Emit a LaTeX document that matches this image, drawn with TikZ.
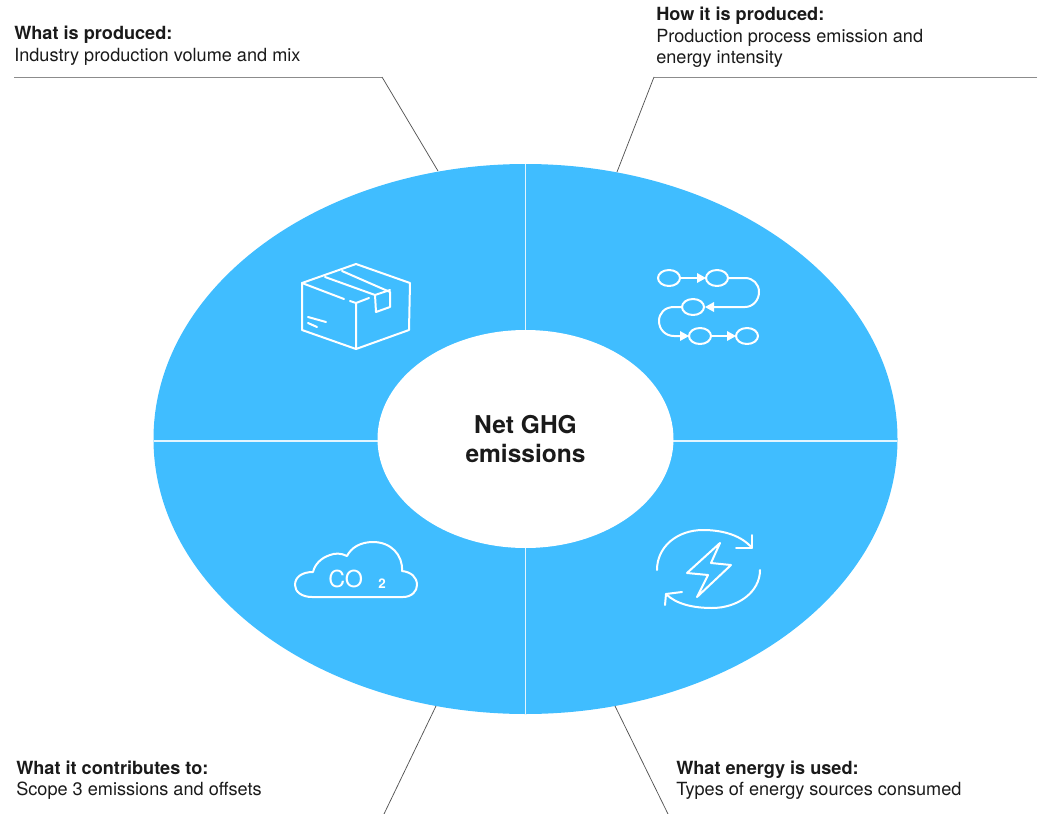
\documentclass[tikz,border=0pt]{standalone}
\usepackage{fontspec}
\setmainfont{TeX Gyre Heros}
\definecolor{wheel}{HTML}{40BDFF}
\definecolor{ink}{HTML}{1A1A1A}
\definecolor{rule}{HTML}{8C8C8C}
\tikzset{
  caption/.style={anchor=base west,inner sep=0pt,text=ink,font=\fontsize{13.6pt}{16pt}\selectfont},
  leader/.style={draw=rule,line width=0.7pt},
  slant/.style={draw=ink!75,line width=0.55pt},
  divider/.style={draw=white!85!wheel,line width=0.9pt},
  icon/.style={draw=white,line width=1.5pt,line cap=round,line join=round},
  tip/.style={fill=white,draw=none},
}
\begin{document}
\begin{tikzpicture}[x=0.75pt,y=-0.75pt]
\useasboundingbox (0,0) rectangle (1040,814);
% wheel
\fill[wheel] (525.5,439) ellipse [x radius=372,y radius=275];
\node[ellipse node/.style={},draw=none,fill=none,inner sep=0pt] (c) at (525.5,439) {};
\coordinate (vt) at (525.5,164); \coordinate (vti) at (525.5,330);
\coordinate (vb) at (525.5,714); \coordinate (vbi) at (525.5,548);
\coordinate (hl) at (154,441); \coordinate (hli) at (378,441);
\coordinate (hr) at (897,441); \coordinate (hri) at (673,441);
\draw[divider] (vt) -- (vti); \draw[divider] (vb) -- (vbi);
\draw[divider] (hl) -- (hli); \draw[divider] (hr) -- (hri);
\fill[white] (525.5,439) ellipse [x radius=148,y radius=109];
\node[align=center,text=ink,inner sep=0pt,font=\fontsize{18.4pt}{22pt}\selectfont\bfseries] (hub) at (525.5,439) {Net GHG\\emissions};
% captions
\node[caption] (tl1) at (14,39) {\textbf{What is produced:}};
\node[caption] (tl2) at (14,61) {Industry production volume and mix};
\node[caption] (tr1) at (656,20) {\textbf{How it is produced:}};
\node[caption] (tr2) at (656,42) {Production process emission and};
\node[caption] (tr3) at (656,63) {energy intensity};
\node[caption] (bl1) at (16,774) {\textbf{What it contributes to:}};
\node[caption] (bl2) at (16,795) {Scope 3 emissions and offsets};
\node[caption] (br1) at (676,774) {\textbf{What energy is used:}};
\node[caption] (br2) at (676,795) {Types of energy sources consumed};
% leaders
\coordinate (a0) at (14,77); \coordinate (a1) at (382,77); \coordinate (a2) at (438,171);
\coordinate (b0) at (1037,77); \coordinate (b1) at (654,77); \coordinate (b2) at (617,172);
\coordinate (d1) at (436,706); \coordinate (d2) at (384,814);
\coordinate (e1) at (615,706); \coordinate (e2) at (668,814);
\draw[leader] (a0) -- (a1); \draw[slant] (a1) -- (a2);
\draw[leader] (b0) -- (b1); \draw[slant] (b1) -- (b2);
\draw[slant] (d1) -- (d2); \draw[slant] (e1) -- (e2);
% box icon
\draw[icon] (356,264) -- (302,283) -- (302,330) -- (356,349) -- (409,330) -- (410,283) -- cycle;
\draw[icon] (356,349) -- (356,303) -- (369,298);
\draw[icon] (302,283) -- (344,299);
\draw[icon] (350,301) -- (356,303);
\draw[icon] (325,277) -- (375,295) -- (376,312) -- (390,307) -- (390,292) -- (342,271);
\draw[icon] (375,295) -- (390,290);
\draw[icon] (308,317) -- (326,322);
\draw[icon] (308,323) -- (317,327);
% flow icon
\draw[icon] (669,278) ellipse [x radius=11,y radius=8];
\draw[icon] (717,278) ellipse [x radius=11,y radius=8];
\draw[icon] (693,307) ellipse [x radius=11,y radius=8];
\draw[icon] (700,336) ellipse [x radius=11,y radius=8];
\draw[icon] (747,336) ellipse [x radius=11,y radius=8];
\draw[icon] (680,278) -- (700,278);
\fill[tip] (706,278) -- (697,273) -- (697,283) -- cycle;
\draw[icon] (728,278) -- (745,278) .. controls (753,278) and (759,284) .. (759,292) .. controls (759,300) and (753,307) .. (745,307) -- (714,307);
\fill[tip] (705,307) -- (714,302) -- (714,312) -- cycle;
\draw[icon] (682,307) -- (674,307) .. controls (665,307) and (659,313) .. (659,321) .. controls (659,329) and (665,336) .. (674,336) -- (682,336);
\fill[tip] (689,336) -- (680,331) -- (680,341) -- cycle;
\draw[icon] (711,336) -- (730,336);
\fill[tip] (736,336) -- (727,331) -- (727,341) -- cycle;
% cloud icon
\draw[icon] (312,597) -- (403,597) .. controls (412,597) and (417,591) .. (417,585) .. controls (417,577) and (411,572) .. (402,571) .. controls (403,555) and (391,542) .. (373,542) .. controls (360,542) and (351,548) .. (347,556) .. controls (341,553) and (335,553) .. (330,555) .. controls (321,558) and (315,564) .. (313,572) .. controls (302,572) and (295,577) .. (295,585) .. controls (295,592) and (302,597) .. (312,597) -- cycle;
\node[text=white,inner sep=0pt,anchor=base west,font=\fontsize{17.5pt}{20pt}\selectfont] (co) at (328,587) {CO};
\node[text=white,inner sep=0pt,anchor=base west,font=\fontsize{10pt}{12pt}\selectfont\bfseries] (two) at (378,588) {2};
% energy icon
\draw[icon] (657,570) .. controls (657,546) and (678,530) .. (703,530) .. controls (724,530) and (742,536) .. (752,548);
\draw[icon] (752,535) -- (752,548) -- (736,548);
\draw[icon] (760,570) .. controls (760,592) and (738,608) .. (712,608) .. controls (693,608) and (676,604) .. (666,594);
\draw[icon] (665,605) -- (666,594) -- (682,592);
\draw[icon] (720,543) -- (687,573) -- (708,575) -- (697,597) -- (731,565) -- (711,563) -- cycle;
\end{tikzpicture}
\end{document}
